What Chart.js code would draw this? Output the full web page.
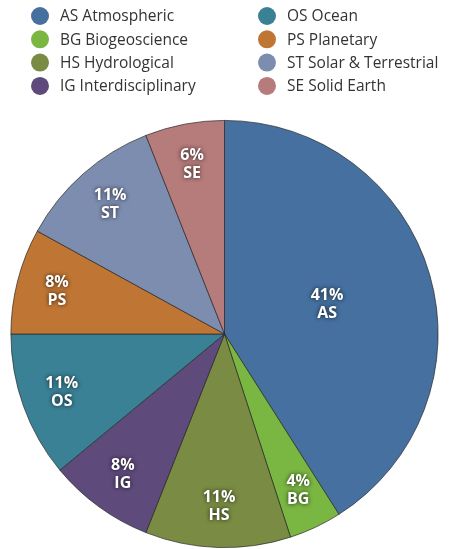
<!DOCTYPE html>
<html>
<head>
<meta charset="utf-8">
<script src="https://cdn.jsdelivr.net/npm/chart.js@4.4.1/dist/chart.umd.min.js"></script>
<style>
    html, body { margin: 0; padding: 0; background: #fff; }
    #wrap { width: 454px; height: 549px; }
</style>
</head>
<body>
<div id="wrap"><canvas id="pie" width="454" height="549"></canvas></div>
<script>
// Data (percent of total)
const codes = ['AS', 'BG', 'HS', 'IG', 'OS', 'PS', 'ST', 'SE'];
const names = ['Atmospheric', 'Biogeoscience', 'Hydrological', 'Interdisciplinary',
               'Ocean', 'Planetary', 'Solar & Terrestrial', 'Solid Earth'];
const shares = [41, 4, 11, 8, 11, 8, 11, 6];
const colors = ['#45709f', '#7ab642', '#7a8c43', '#5f4a7c',
                '#3a8196', '#bf7634', '#7d8db0', '#b67b7b'];

const FONT = '"Open Sans", "DejaVu Sans", sans-serif';

// two-column legend, first four on the left, rest on the right
const columnLegend = {
    id: 'columnLegend',
    afterDraw(chart) {
        const ctx = chart.ctx;
        const cols = [40, 267];
        const rows = 4;
        ctx.save();
        ctx.font = '15.5px ' + FONT;
        ctx.textBaseline = 'middle';
        ctx.textAlign = 'left';
        codes.forEach((code, i) => {
            const cx = cols[Math.floor(i / rows)];
            const cy = 16 + (i % rows) * 23.3;
            ctx.beginPath();
            ctx.arc(cx, cy, 9, 0, Math.PI * 2);
            ctx.fillStyle = colors[i];
            ctx.fill();
            ctx.fillStyle = '#333';
            ctx.fillText(code + ' ' + names[i], cx + 20, cy + 1);
        });
        ctx.restore();
    }
};

// percent + code written inside each slice
const sliceLabels = {
    id: 'sliceLabels',
    afterDatasetsDraw(chart) {
        const ctx = chart.ctx;
        const meta = chart.getDatasetMeta(0);
        ctx.save();
        ctx.font = 'bold 16px ' + FONT;
        ctx.textAlign = 'center';
        ctx.textBaseline = 'middle';
        ctx.fillStyle = '#fff';
        ctx.shadowColor = 'rgba(0,0,0,0.8)';
        ctx.shadowBlur = 4;
        meta.data.forEach((arc, i) => {
            const p = arc.getProps(['x', 'y', 'startAngle', 'endAngle', 'outerRadius'], true);
            const mid = (p.startAngle + p.endAngle) / 2;
            const f = shares[i] > 30 ? 0.5 : 0.81;
            const x = p.x + Math.cos(mid) * p.outerRadius * f;
            const y = p.y + Math.sin(mid) * p.outerRadius * f;
            ctx.fillText(shares[i] + '%', x, y - 9);
            ctx.fillText(codes[i], x, y + 9);
        });
        ctx.restore();
    }
};

new Chart(document.getElementById('pie'), {
    type: 'pie',
    data: {
        labels: codes,
        datasets: [{
            data: shares,
            backgroundColor: colors,
            borderColor: 'rgba(35,35,35,0.85)',
            borderWidth: 0.8,
            hoverOffset: 0
        }]
    },
    options: {
        responsive: false,
        animation: false,
        layout: { padding: { top: 120, left: 10, right: 15, bottom: 1 } },
        plugins: {
            legend: { display: false },
            tooltip: { enabled: false }
        }
    },
    plugins: [columnLegend, sliceLabels]
});
</script>
</body>
</html>
